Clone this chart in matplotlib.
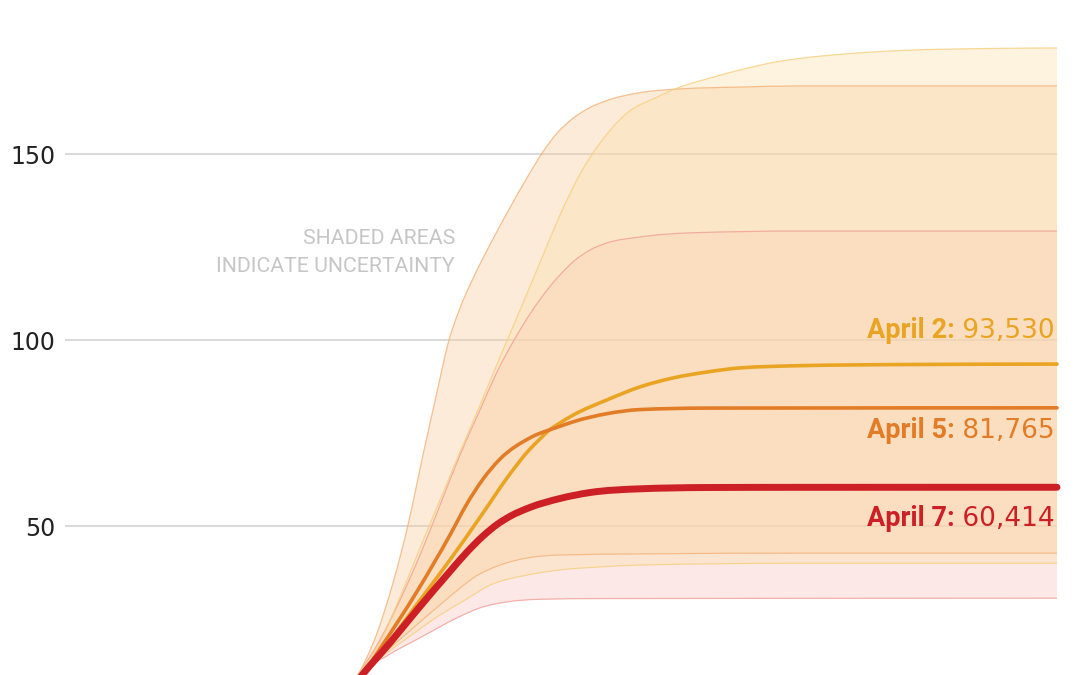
import matplotlib
matplotlib.use("Agg")
import matplotlib.pyplot as plt
from matplotlib.path import Path
from matplotlib.patches import PathPatch
import numpy as np

plt.rcParams["font.family"] = ["Roboto", "DejaVu Sans"]

# x = days on an unlabeled timeline, y = cumulative deaths (thousands)
# ── projection lines ────────────────────────────────────────────────────────
apr7_day = [56.5, 61.0, 66.6, 72.0, 78.6, 82.0, 85.2, 88.0, 90.6, 94.6, 100.6,
            106.6, 116.6, 130.0, 148.6, 200.0]
apr7_val = [2.0, 9.9, 18.6, 27.4, 37.8, 43.0, 47.3, 50.4, 52.6, 55.0, 57.4,
            59.0, 60.0, 60.35, 60.4, 60.414]

apr5_day = [56.5, 61.0, 64.8, 72.0, 78.6, 82.0, 85.2, 88.6, 94.6, 100.6,
            103.2, 110.0, 116.6, 130.0, 200.0]
apr5_val = [2.0, 9.9, 17.4, 32.4, 47.6, 56.0, 62.6, 68.0, 73.7, 76.8,
            78.0, 80.2, 81.3, 81.7, 81.765]

apr2_day = [56.5, 61.0, 65.2, 72.0, 78.6, 85.2, 90.0, 94.6, 96.6, 98.2,
            100.6, 103.2, 110.0, 116.6, 123.2, 130.0, 136.6, 148.6, 168.6, 200.0]
apr2_val = [2.0, 9.9, 16.7, 29.0, 40.9, 53.5, 62.9, 70.7, 73.4, 75.5,
            77.7, 79.8, 83.9, 87.4, 89.8, 91.4, 92.5, 93.1, 93.4, 93.53]

# ── uncertainty bands (upper / lower) ───────────────────────────────────────
apr2_hi_day = [56.5, 60.2, 64.6, 68.6, 72.6, 76.6, 80.6, 84.6, 87.6, 91.2, 96.6,
               100.6, 104.6, 109.2, 114.0, 120.0, 124.6, 130.0, 136.6, 143.2,
               148.6, 158.6, 168.6, 188.6, 200.0]
apr2_hi_val = [2.0, 9.9, 18.8, 30.9, 44.1, 57.0, 69.9, 82.5, 92.2, 103.6, 120.8,
               133.6, 144.6, 154.0, 161.0, 165.3, 168.0, 170.2, 172.6, 174.6,
               175.7, 177.0, 177.8, 178.4, 178.5]
apr2_lo_day = [56.5, 60.2, 64.6, 70.6, 76.6, 81.6, 86.6, 94.0, 100.6, 108.6,
               116.6, 148.6, 200.0]
apr2_lo_val = [2.0, 9.9, 14.5, 20.4, 26.1, 30.1, 34.1, 36.8, 38.2, 39.0,
               39.5, 40.0, 40.0]

apr5_hi_day = [56.5, 60.2, 64.0, 67.2, 70.2, 73.2, 76.0, 78.2, 80.6, 82.8, 85.2,
               88.0, 90.6, 94.0, 97.2, 100.0, 103.2, 106.6, 110.0, 116.6, 124.6,
               136.6, 148.6, 200.0]
apr5_hi_val = [2.0, 9.9, 21.2, 34.7, 50.3, 69.1, 86.0, 99.0, 108.6, 115.4, 122.0,
               129.2, 135.6, 143.6, 150.6, 155.6, 159.6, 162.5, 164.4, 166.5, 167.5,
               168.0, 168.3, 168.3]
apr5_lo_day = [56.5, 60.2, 66.6, 72.6, 76.6, 80.6, 83.2, 88.6, 94.0, 100.6,
               116.6, 148.6, 200.0]
apr5_lo_val = [2.0, 9.9, 17.2, 24.2, 28.8, 33.3, 36.0, 39.5, 41.4, 42.2,
               42.5, 42.7, 42.7]

apr7_hi_day = [56.5, 60.2, 64.6, 68.6, 72.6, 76.6, 80.6, 84.6, 88.0, 92.6, 98.0,
               100.6, 103.2, 106.6, 110.0, 116.6, 126.6, 148.6, 200.0]
apr7_hi_val = [2.0, 9.9, 19.4, 30.1, 42.2, 55.6, 69.1, 81.2, 91.4, 102.7, 113.4,
               117.5, 121.0, 124.2, 126.1, 127.7, 128.8, 129.3, 129.3]
apr7_lo_day = [56.5, 60.2, 66.0, 73.2, 80.0, 84.6, 90.0, 96.6, 108.6, 200.0]
apr7_lo_val = [2.0, 9.9, 15.1, 20.4, 25.3, 28.0, 29.6, 30.3, 30.5, 30.6]

labels = ["April 2:", "April 5:", "April 7:"]
totals = ["93,530", "81,765", "60,414"]
label_y = [102.4, 75.5, 51.9]
yticks = [50, 100, 150]

LINE_C = ["#e9a423", "#e27c26", "#cc1f26"]
FILL_C = ["#fae1af", "#f8cda0", "#f8c8c3"]
EDGE_C = ["#f6cf7e", "#f3b27a", "#ef9f98"]


def mono_curve(xs, ys):
    """monotone-x cubic bezier through the points (like d3.curveMonotoneX)"""
    n = len(xs)
    h = [xs[i + 1] - xs[i] for i in range(n - 1)]
    s = [(ys[i + 1] - ys[i]) / h[i] for i in range(n - 1)]
    t = [0.0] * n
    for i in range(1, n - 1):
        p = (s[i - 1] * h[i] + s[i] * h[i - 1]) / (h[i - 1] + h[i])
        t[i] = (np.sign(s[i - 1]) + np.sign(s[i])) * min(abs(s[i - 1]), abs(s[i]), 0.5 * abs(p))
    t[0] = (3 * s[0] - t[1]) / 2
    t[-1] = (3 * s[-1] - t[-2]) / 2
    verts = [(xs[0], ys[0])]
    for i in range(n - 1):
        d = h[i] / 3
        verts += [(xs[i] + d, ys[i] + d * t[i]),
                  (xs[i + 1] - d, ys[i + 1] - d * t[i + 1]),
                  (xs[i + 1], ys[i + 1])]
    return verts


def curve_path(xs, ys):
    v = mono_curve(xs, ys)
    return Path(v, [Path.MOVETO] + [Path.CURVE4] * (len(v) - 1))


def band_path(hx, hy, lx, ly):
    up = mono_curve(hx, hy)
    lo = mono_curve(lx, ly)[::-1]
    verts = up + lo + [up[0]]
    codes = ([Path.MOVETO] + [Path.CURVE4] * (len(up) - 1) + [Path.LINETO]
             + [Path.CURVE4] * (len(lo) - 1) + [Path.CLOSEPOLY])
    return Path(verts, codes)


fig = plt.figure(figsize=(10.8, 6.75), dpi=100)
ax = fig.add_axes([65 / 1080, 0, 992 / 1080, 1])
ax.set_xlim(1.6, 200)
ax.set_ylim(9.95, 191.4)

for s in ax.spines.values():
    s.set_visible(False)
ax.set_xticks([])
ax.set_yticks(yticks)
ax.set_yticklabels([str(t) for t in yticks], fontsize=17, color="#222222",
                   family="DejaVu Sans")
ax.tick_params(axis="y", length=0, pad=7)
for t in yticks:
    ax.axhline(t, color="#cfcfcf", lw=1.1, zorder=0)

# bands: April 7 at the bottom, then April 5, then April 2
bands = [
    (apr7_hi_day, apr7_hi_val, apr7_lo_day, apr7_lo_val, 2),
    (apr5_hi_day, apr5_hi_val, apr5_lo_day, apr5_lo_val, 1),
    (apr2_hi_day, apr2_hi_val, apr2_lo_day, apr2_lo_val, 0),
]
for hd, hv, ld, lv, k in bands:
    ax.add_patch(PathPatch(band_path(hd, hv, ld, lv), facecolor=FILL_C[k],
                           alpha=0.4, lw=0, zorder=1))
for hd, hv, ld, lv, k in bands:
    for px, py in ((hd, hv), (ld, lv)):
        ax.add_patch(PathPatch(curve_path(px, py), facecolor="none",
                               edgecolor=EDGE_C[k], lw=0.9, alpha=0.8, zorder=2))

series = [(apr2_day, apr2_val, LINE_C[0], 2.6),
          (apr5_day, apr5_val, LINE_C[1], 2.6),
          (apr7_day, apr7_val, LINE_C[2], 5.0)]
for i, (dx, dy, c, w) in enumerate(series):
    ax.add_patch(PathPatch(curve_path(dx, dy), facecolor="none", edgecolor=c,
                           lw=w, capstyle="round", zorder=4 + i, clip_on=False))

# end labels: bold date + regular value
for lab, tot, y, c in zip(labels, totals, label_y, LINE_C):
    t = ax.text(199.6, y, " " + tot, ha="right", va="center",
                fontsize=19, color=c, family="DejaVu Sans", zorder=8)
    ax.annotate(lab, xy=(0, 0), xycoords=t, ha="right", va="bottom",
                fontsize=19.5, fontweight="bold", color=c, zorder=8)

ax.text(79.6, 123.5, "SHADED AREAS\nINDICATE UNCERTAINTY", ha="right", va="center",
        fontsize=15.3, color="#c6c6c6", linespacing=1.55)

fig.savefig("out.png", dpi=100)
